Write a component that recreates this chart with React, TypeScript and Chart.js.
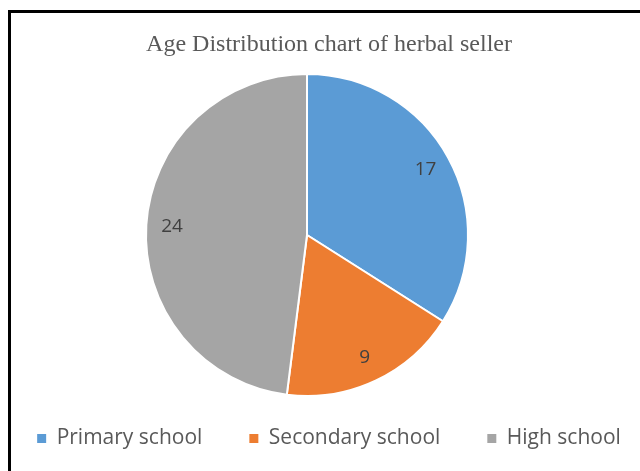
import React, { useEffect, useRef } from "react";
import { Chart, registerables } from "chart.js";

Chart.register(...registerables);

const categories = ["Primary school", "Secondary school", "High school"];
const values = [17, 9, 24];
const sliceColors = ["#5B9BD5", "#ED7D31", "#A5A5A5"];
const titleText = "Age Distribution chart of herbal seller";

// canvas is a little wider than the window so the widely spaced legend fits in one row
const CANVAS_W = 700;
const CANVAS_H = 471;
const CANVAS_SHIFT = -30;

const PIE_CX = 307 - CANVAS_SHIFT;
const PIE_CY = 235;
const PIE_R = 162;

const placePie = {
  id: "placePie",
  afterLayout(chart: any) {
    chart.chartArea = {
      left: PIE_CX - PIE_R,
      right: PIE_CX + PIE_R,
      top: PIE_CY - PIE_R,
      bottom: PIE_CY + PIE_R,
      width: PIE_R * 2,
      height: PIE_R * 2,
    };
  },
};

const valueLabels = {
  id: "valueLabels",
  afterDatasetsDraw(chart: any) {
    const ctx = chart.ctx;
    const meta = chart.getDatasetMeta(0);
    ctx.save();
    ctx.font = "19px 'Open Sans'";
    ctx.fillStyle = "#404040";
    ctx.textAlign = "center";
    ctx.textBaseline = "middle";
    meta.data.forEach((arc: any, i: number) => {
      const p = arc.getProps(["x", "y", "startAngle", "endAngle", "outerRadius"], true);
      const mid = (p.startAngle + p.endAngle) / 2;
      const r = p.outerRadius * 0.84;
      ctx.fillText(String(values[i]), p.x + Math.cos(mid) * r, p.y + Math.sin(mid) * r);
    });
    ctx.restore();
  },
};

export default function App() {
  const ref = useRef<HTMLCanvasElement | null>(null);

  useEffect(() => {
    if (!ref.current) return;
    const chart = new Chart(ref.current, {
      type: "pie",
      data: {
        labels: categories,
        datasets: [
          {
            data: values,
            backgroundColor: sliceColors,
            borderColor: "#ffffff",
            borderWidth: 2,
          },
        ],
      },
      options: {
        responsive: false,
        animation: false,
        layout: { padding: { left: 18, right: 0, top: 0, bottom: 12 } },
        plugins: {
          title: {
            display: true,
            text: titleText,
            color: "#595959",
            font: { family: "'Liberation Serif'", size: 24, weight: "normal" },
            padding: { top: 30, bottom: 0 },
          },
          legend: {
            position: "bottom",
            labels: {
              boxWidth: 9,
              boxHeight: 9,
              padding: 47,
              color: "#595959",
              font: { family: "'Open Sans'", size: 21 },
              generateLabels: (c: any) =>
                (Chart as any).overrides.pie.plugins.legend.labels
                  .generateLabels(c)
                  .map((l: any) => ({ ...l, lineWidth: 0 })),
            },
          },
          tooltip: { enabled: false },
        },
      },
      plugins: [placePie, valueLabels],
    });
    return () => chart.destroy();
  }, []);

  return (
    <div
      style={{
        position: "absolute",
        left: 0,
        top: 0,
        width: 640,
        height: 471,
        background: "#fff",
        overflow: "hidden",
      }}
    >
      <canvas
        ref={ref}
        width={CANVAS_W}
        height={CANVAS_H}
        style={{ display: "block", position: "absolute", left: CANVAS_SHIFT, top: 0 }}
      />
      <div
        style={{
          position: "absolute",
          left: 8,
          top: 10,
          right: 0,
          bottom: 0,
          borderLeft: "3px solid #000",
          borderTop: "3px solid #000",
          pointerEvents: "none",
        }}
      />
    </div>
  );
}
